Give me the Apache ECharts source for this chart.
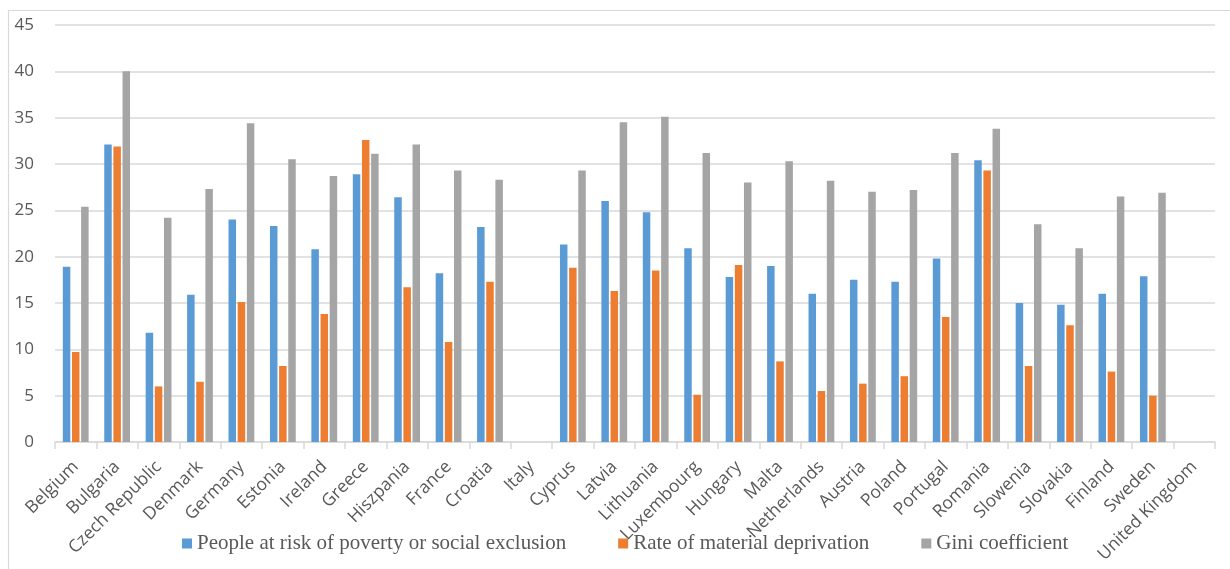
<!DOCTYPE html>
<html>
<head>
<meta charset="utf-8">
<script src="https://cdn.jsdelivr.net/npm/echarts@6/dist/echarts.min.js"></script>
<style>
  html, body { margin: 0; padding: 0; background: #ffffff; }
  #chart { width: 1230px; height: 569px; }
</style>
</head>
<body>
<div id="chart"></div>
<script>
// Countries along the category axis
const countries = [
  'Belgium', 'Bulgaria', 'Czech Republic', 'Denmark', 'Germany', 'Estonia', 'Ireland',
  'Greece', 'Hiszpania', 'France', 'Croatia', 'Italy', 'Cyprus', 'Latvia', 'Lithuania',
  'Luxembourg', 'Hungary', 'Malta', 'Netherlands', 'Austria', 'Poland', 'Portugal',
  'Romania', 'Slowenia', 'Slovakia', 'Finland', 'Sweden', 'United Kingdom'
];

// People at risk of poverty or social exclusion (%)
const povertyRisk = [
  18.9, 32.1, 11.8, 15.9, 24.0, 23.3, 20.8, 28.9, 26.4, 18.2, 23.2, null, 21.3, 26.0, 24.8,
  20.9, 17.8, 19.0, 16.0, 17.5, 17.3, 19.8, 30.4, 15.0, 14.8, 16.0, 17.9, null
];

// Rate of material deprivation (%)
const materialDeprivation = [
  9.7, 31.9, 6.0, 6.5, 15.1, 8.2, 13.8, 32.6, 16.7, 10.8, 17.3, null, 18.8, 16.3, 18.5,
  5.1, 19.1, 8.7, 5.5, 6.3, 7.1, 13.5, 29.3, 8.2, 12.6, 7.6, 5.0, null
];

// Gini coefficient
const gini = [
  25.4, 40.0, 24.2, 27.3, 34.4, 30.5, 28.7, 31.1, 32.1, 29.3, 28.3, null, 29.3, 34.5, 35.1,
  31.2, 28.0, 30.3, 28.2, 27.0, 27.2, 31.2, 33.8, 23.5, 20.9, 26.5, 26.9, null
];

const seriesNames = [
  'People at risk of poverty or social exclusion',
  'Rate of material deprivation',
  'Gini coefficient'
];
const seriesColors = ['#5B9BD5', '#ED7D31', '#A5A5A5'];
const seriesData = [povertyRisk, materialDeprivation, gini];

const gridColor = '#d9d9d9';
const labelColor = '#595959';

const chart = echarts.init(document.getElementById('chart'), null, { renderer: 'canvas' });

chart.setOption({
  animation: false,
  backgroundColor: '#ffffff',
  graphic: [{
    type: 'rect',
    shape: { x: 8.5, y: 10.5, width: 1300, height: 600 },
    style: { fill: 'none', stroke: gridColor, lineWidth: 1.2 },
    silent: true,
    z: -1
  }],
  grid: {
    left: 55, right: 15, top: 25, bottom: 127,
    containLabel: false,
    outerBoundsMode: 'none'
  },
  legend: {
    left: 182,
    top: 533,
    padding: 0,
    itemWidth: 10,
    itemHeight: 10,
    itemGap: 52,
    icon: 'rect',
    textStyle: {
      fontFamily: '"Liberation Serif", "Times New Roman", serif',
      fontSize: 21,
      color: labelColor
    },
    data: seriesNames
  },
  xAxis: {
    type: 'category',
    data: countries,
    boundaryGap: true,
    axisLine: { lineStyle: { color: gridColor, width: 1.5 } },
    axisTick: { show: true, length: 7, lineStyle: { color: gridColor, width: 1.5 } },
    axisLabel: {
      interval: 0,
      rotate: 45,
      margin: 22,
      color: labelColor,
      fontFamily: '"Open Sans", sans-serif',
      fontSize: 17.5
    }
  },
  yAxis: {
    type: 'value',
    min: 0,
    max: 45,
    interval: 5,
    axisLine: { show: false },
    axisTick: { show: false },
    splitLine: { lineStyle: { color: gridColor, width: 1.5 } },
    axisLabel: {
      margin: 21,
      color: labelColor,
      fontFamily: '"Open Sans", sans-serif',
      fontSize: 17
    }
  },
  series: seriesData.map((d, i) => ({
    name: seriesNames[i],
    type: 'bar',
    data: d,
    barWidth: 7.5,
    barGap: '22%',
    itemStyle: { color: seriesColors[i] }
  }))
});
</script>
</body>
</html>
